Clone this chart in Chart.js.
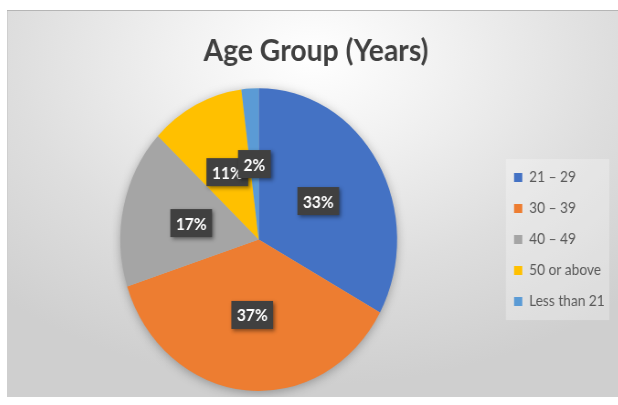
<!DOCTYPE html>
<html>

<head>
  <meta charset="utf-8">
  <title>Age Group (Years)</title>
  <script src="https://cdn.jsdelivr.net/npm/chart.js@4.4.0/dist/chart.umd.min.js"></script>
  <style>
    html,
    body {
      margin: 0;
      padding: 0;
      background: #fff;
    }

    #frame {
      position: absolute;
      left: 7px;
      top: 10px;
      width: 611px;
      height: 387px;
      overflow: hidden;
      background: radial-gradient(ellipse 75% 85% at 50% 12%, #ffffff 0%, #f3f3f3 25%, #dedede 65%, #cfcfcf 100%);
      box-shadow: inset 0 1px 0 #b5b5b5, inset 1px 0 0 #cfcfcf;
    }

    /* the source picture is squeezed sideways, so the chart is drawn wider and scaled down */
    #wrap {
      width: 668px;
      height: 387px;
      transform: scale(0.914, 1);
      transform-origin: 0 0;
    }
  </style>
</head>

<body>
  <div id="frame">
    <div id="wrap"><canvas id="chart"></canvas></div>
  </div>
  <script>
    var categories = ['21 – 29', '30 – 39', '40 – 49', '50 or above', 'Less than 21'];
    var shares = [33, 37, 17, 11, 2];
    var colors = ['#4472C4', '#ED7D31', '#A5A5A5', '#FFC000', '#5B9BD5'];
    var chartTitle = 'Age Group (Years)';

    // light panel behind the legend, sized from the legend's own hit boxes
    var legendPanel = {
      id: 'legendPanel',
      beforeDraw: function(chart) {
        var boxes = chart.legend && chart.legend.legendHitBoxes;
        if (!boxes || !boxes.length) return;
        var first = boxes[0], last = boxes[boxes.length - 1];
        var w = Math.max.apply(null, boxes.map(function(b) { return b.width; }));
        var ctx = chart.ctx;
        ctx.save();
        ctx.fillStyle = 'rgba(255,255,255,0.28)';
        ctx.fillRect(first.left - 9, first.top - 11, w + 14, last.top + last.height - first.top + 22);
        ctx.restore();
      }
    };

    // soft shadow under the pie
    var pieShadow = {
      id: 'pieShadow',
      beforeDatasetsDraw: function(chart) {
        var arc = chart.getDatasetMeta(0).data[0];
        if (!arc) return;
        var ctx = chart.ctx;
        ctx.save();
        ctx.shadowColor = 'rgba(0,0,0,0.35)';
        ctx.shadowBlur = 12;
        ctx.shadowOffsetY = 2;
        ctx.fillStyle = '#bbbbbb';
        ctx.beginPath();
        ctx.arc(arc.x, arc.y, arc.outerRadius - 1, 0, Math.PI * 2);
        ctx.fill();
        ctx.restore();
      }
    };

    // dark boxed percentage labels in each slice
    var sliceLabels = {
      id: 'sliceLabels',
      afterDatasetsDraw: function(chart) {
        var ctx = chart.ctx;
        var meta = chart.getDatasetMeta(0);
        ctx.save();
        ctx.font = 'bold 17px Lato';
        ctx.textAlign = 'center';
        ctx.textBaseline = 'middle';
        meta.data.forEach(function(arc, i) {
          var p = arc.tooltipPosition();
          var txt = shares[i] + '%';
          var w = ctx.measureText(txt).width + 12;
          var h = 28;
          ctx.shadowColor = 'rgba(0,0,0,0.45)';
          ctx.shadowBlur = 4;
          ctx.shadowOffsetX = 2;
          ctx.shadowOffsetY = 2;
          ctx.fillStyle = '#404040';
          ctx.fillRect(p.x - w / 2, p.y - h / 2, w, h);
          ctx.shadowColor = 'transparent';
          ctx.fillStyle = '#ffffff';
          ctx.fillText(txt, p.x, p.y + 1);
        });
        ctx.restore();
      }
    };

    var ctx = document.getElementById('chart').getContext('2d');
    window.chart = new Chart(ctx, {
      type: 'pie',
      data: {
        labels: categories,
        datasets: [{
          data: shares,
          backgroundColor: colors,
          borderWidth: 0
        }]
      },
      options: {
        responsive: true,
        maintainAspectRatio: false,
        animation: false,
        events: [],
        layout: {
          padding: { left: 12, right: 4, top: 0, bottom: 6 }
        },
        plugins: {
          title: {
            display: true,
            text: chartTitle,
            color: '#404040',
            font: { family: 'Lato', size: 31, weight: 'bold' },
            padding: { top: 22, bottom: 19 }
          },
          legend: {
            position: 'right',
            fullSize: false,
            labels: {
              boxWidth: 9,
              boxHeight: 9,
              padding: 16,
              color: '#595959',
              font: { family: 'Lato', size: 15 }
            }
          },
          tooltip: { enabled: false }
        }
      },
      plugins: [legendPanel, pieShadow, sliceLabels]
    });
  </script>
</body>

</html>
